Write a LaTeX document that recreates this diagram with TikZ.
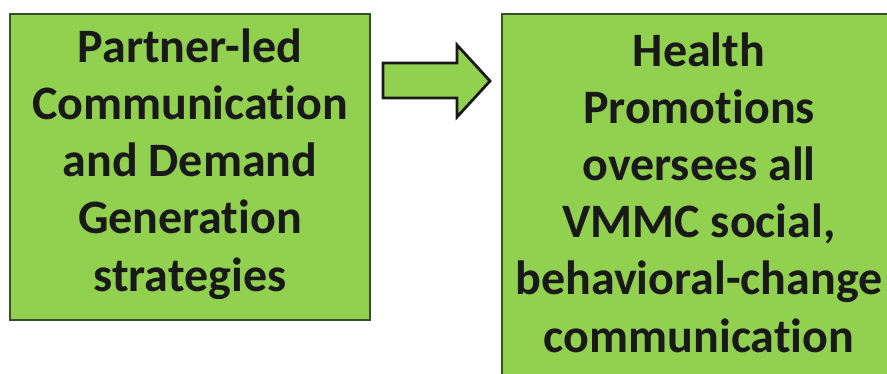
\documentclass[tikz,border=0pt]{standalone}
\usepackage{fontspec}
\setmainfont[Ligatures=NoCommon]{Carlito}
\definecolor{boxgreen}{HTML}{92D050}
\definecolor{boxedge}{HTML}{36502A}
\begin{document}
\begin{tikzpicture}[x=1pt,y=-1pt,
  panel/.style={draw=boxedge,line width=1.8pt,fill=boxgreen},
  label/.style={font=\fontsize{48}{57.2}\selectfont\bfseries,align=center,anchor=base,inner sep=0pt,text=black!90}]
\useasboundingbox (0,0) rectangle (887,373);
\begin{scope}
\clip (0,0) rectangle (887,373);
% the two boxes
\draw[panel] (10,14) rectangle (370,320);
\draw[panel] (502,14) rectangle (900,400);
% text blocks, placed by the baseline of their last line
\node[label] (partner) at (190,291) {Partner-led\\Communication\\and Demand\\Generation\\strategies};
\node[label] (health) at (699,352) {Health\\Promotions\\oversees all\\VMMC social,\\behavioral-change\\communication};
% block arrow between them
\draw[fill=boxgreen,draw=black!90,line width=2.8pt,line join=miter]
  (383,63) -- (457,63) -- (457,45) -- (490,81) -- (457,117) -- (457,98) -- (383,98) -- cycle;
\end{scope}
\end{tikzpicture}
\end{document}
